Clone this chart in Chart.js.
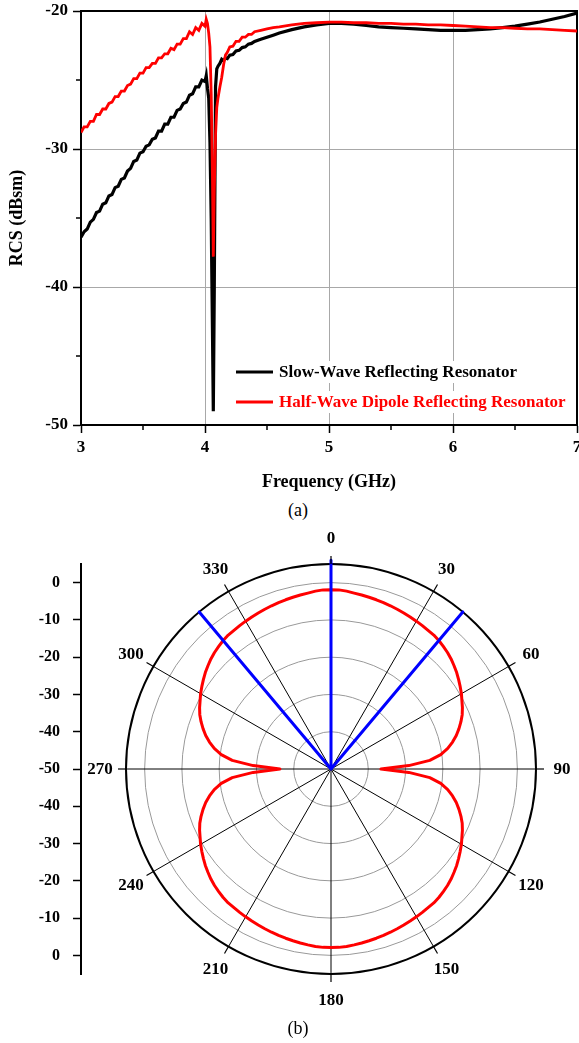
<!DOCTYPE html>
<html>
<head>
<meta charset="utf-8">
<script src="https://cdn.jsdelivr.net/npm/chart.js@4/dist/chart.umd.min.js"></script>
<style>
  html, body { margin: 0; padding: 0; background: #fff; overflow: hidden; }
  body { width: 579px; height: 1043px; position: relative; }
  .panel { position: absolute; left: 0; }
  .cap { position: absolute; left: 248px; width: 100px; text-align: center;
         font: 18px "Liberation Serif", "Times New Roman", serif; line-height: 20px; color: #000; }
</style>
</head>
<body>
<div class="panel" style="top:0;width:579px;height:500px"><canvas id="rcs"></canvas></div>
<div class="cap" style="top:500px">(a)</div>
<div class="panel" style="top:520px;width:582px;height:523px"><canvas id="pattern"></canvas></div>
<div class="cap" style="top:1018px">(b)</div>
<script>
const SERIF = '"Liberation Serif", "Times New Roman", serif';
Chart.defaults.font.family = SERIF;
Chart.defaults.color = '#000';

// ---------- (a) RCS versus frequency ----------
const freqGHz = [
  3.000, 3.025, 3.050, 3.075, 3.100, 3.125, 3.150, 3.175, 3.200, 3.225,
  3.250, 3.275, 3.300, 3.325, 3.350, 3.375, 3.400, 3.425, 3.450, 3.475,
  3.500, 3.525, 3.550, 3.575, 3.600, 3.625, 3.650, 3.675, 3.700, 3.725,
  3.750, 3.775, 3.800, 3.825, 3.850, 3.875, 3.900, 3.925, 3.950, 3.975,
  4.000, 4.010, 4.020, 4.030, 4.040, 4.050, 4.060, 4.067, 4.075, 4.085,
  4.095, 4.105, 4.120, 4.135, 4.150, 4.165, 4.180, 4.200, 4.225, 4.250,
  4.275, 4.300, 4.325, 4.350, 4.375, 4.400, 4.450, 4.500, 4.550, 4.600,
  4.700, 4.800, 4.900, 5.000, 5.100, 5.200, 5.300, 5.400, 5.500, 5.600,
  5.700, 5.800, 5.900, 6.000, 6.100, 6.200, 6.300, 6.400, 6.500, 6.600,
  6.700, 6.800, 6.900, 7.000
];
const slowWaveRcs = [
  -36.4, -36.0, -35.8, -35.3, -35.1, -34.6, -34.5, -34.0, -33.9, -33.4,
  -33.3, -32.8, -32.7, -32.2, -32.1, -31.6, -31.4, -30.9, -30.8, -30.3,
  -30.2, -29.8, -29.7, -29.3, -29.2, -28.7, -28.7, -28.2, -28.2, -27.7,
  -27.7, -27.2, -27.1, -26.7, -26.6, -26.1, -26.0, -25.5, -25.5, -25.0,
  -25.1, -24.7, -25.6, -26.3, -29.5, -35.0, -43.0, -49.0, -40.0, -25.5,
  -24.2, -24.0, -23.8, -23.5, -23.6, -23.4, -23.45, -23.2, -23.15, -22.9,
  -22.85, -22.65, -22.6, -22.4, -22.35, -22.2, -22.05, -21.9, -21.75, -21.6,
  -21.35, -21.15, -21.0, -20.9, -20.9, -20.95, -21.05, -21.15, -21.2, -21.25,
  -21.3, -21.35, -21.4, -21.4, -21.4, -21.35, -21.3, -21.2, -21.1, -20.95,
  -20.8, -20.6, -20.4, -20.15
];
const halfWaveRcs = [
  -28.8, -28.4, -28.4, -28.0, -28.0, -27.5, -27.5, -27.1, -27.1, -26.7,
  -26.6, -26.2, -26.2, -25.8, -25.8, -25.4, -25.3, -24.9, -24.9, -24.5,
  -24.5, -24.1, -24.1, -23.8, -23.8, -23.4, -23.4, -23.1, -23.1, -22.7,
  -22.8, -22.4, -22.4, -22.0, -22.0, -21.5, -21.7, -21.2, -21.4, -20.9,
  -21.1, -20.6, -20.9, -21.6, -22.6, -26.0, -32.0, -37.8, -33.0, -29.0,
  -27.0, -26.3, -25.5, -24.8, -23.9, -23.2, -23.0, -22.6, -22.55, -22.2,
  -22.2, -21.9, -21.9, -21.7, -21.7, -21.5, -21.4, -21.3, -21.2, -21.15,
  -21.0, -20.9, -20.85, -20.8, -20.8, -20.85, -20.85, -20.9, -20.9, -20.95,
  -20.95, -21.0, -21.0, -21.05, -21.1, -21.15, -21.2, -21.2, -21.25, -21.3,
  -21.3, -21.35, -21.4, -21.45
];
const seriesNames = ['Slow-Wave Reflecting Resonator', 'Half-Wave Dipole Reflecting Resonator'];
const freqTicks = [3, 4, 5, 6, 7];
const freqMinorTicks = [3.5, 4.5, 5.5, 6.5];
const rcsTicks = [-50, -40, -30, -20];
const rcsMinorTicks = [-45, -35, -25];

// ---------- (b) radiation pattern ----------
const patternStep = 2.5;
const patternAngles = Array.from({ length: 360 / patternStep }, (_, i) => i * patternStep);
const dipolePattern = [
  -1.9, -1.9, -2.1, -2.4, -2.6, -2.8, -3.0, -3.2, -3.4, -3.6, -3.8, -4.0,
  -4.2, -4.4, -4.6, -4.7, -5.0, -5.4, -5.8, -6.3, -6.9, -7.5, -8.2, -8.9,
  -9.6, -10.4, -11.1, -11.9, -12.9, -14.0, -15.2, -16.6, -18.2, -20.3, -23.4, -29.1,
  -36.6, -29.1, -23.4, -20.3, -18.2, -16.6, -15.2, -14.0, -12.9, -11.9, -11.1, -10.4,
  -9.6, -8.9, -8.2, -7.5, -6.9, -6.3, -5.8, -5.4, -5.0, -4.7, -4.6, -4.4,
  -4.2, -4.0, -3.8, -3.6, -3.4, -3.2, -3.0, -2.8, -2.6, -2.4, -2.2, -2.1,
  -2.1, -2.1, -2.2, -2.4, -2.6, -2.8, -3.0, -3.2, -3.4, -3.6, -3.8, -4.0,
  -4.2, -4.4, -4.6, -4.7, -5.0, -5.4, -5.8, -6.3, -6.9, -7.5, -8.2, -8.9,
  -9.6, -10.4, -11.1, -11.9, -12.9, -14.0, -15.2, -16.6, -18.2, -20.3, -23.4, -29.1,
  -36.3, -29.1, -23.4, -20.3, -18.2, -16.6, -15.2, -14.0, -12.9, -11.9, -11.1, -10.4,
  -9.6, -8.9, -8.2, -7.5, -6.9, -6.3, -5.8, -5.4, -5.0, -4.7, -4.6, -4.4,
  -4.2, -4.0, -3.8, -3.6, -3.4, -3.2, -3.0, -2.8, -2.6, -2.4, -2.1, -1.9
];
const spikeAngles = [0, 40, 320];
const spikeLevels = [6, 5, 5];
const patternFloor = -50;
const ringValues = [-50, -40, -30, -20, -10, 0, 5];
const spokeLabels = ['0', '30', '60', '90', '120', '150', '180', '210', '240', '270', '300', '330'];
const levelAxisTicks = [-50, -40, -30, -20, -10, 0, 10, 20, 30, 40, 50];
const levelAxisLabels = ['0', '-10', '-20', '-30', '-40', '-50', '-40', '-30', '-20', '-10', '0'];

// spikes of the slow-wave resonator: radial strokes from the centre
const spikeSeries = patternAngles.map(a => {
  const k = spikeAngles.indexOf(a);
  return k >= 0 ? spikeLevels[k] : patternFloor;
});

// frame on top/right plus short minor ticks
const frameAndMinorTicks = {
  id: 'frameAndMinorTicks',
  beforeDatasetsDraw(chart) {
    const { ctx, chartArea: a, scales: { x, y } } = chart;
    ctx.save();
    ctx.strokeStyle = '#000';
    ctx.lineWidth = 2;
    ctx.beginPath();
    ctx.moveTo(a.left, a.top);
    ctx.lineTo(a.right, a.top);
    ctx.lineTo(a.right, a.bottom);
    ctx.stroke();
    ctx.lineWidth = 1.5;
    ctx.beginPath();
    freqMinorTicks.forEach(v => {
      const px = x.getPixelForValue(v);
      ctx.moveTo(px, a.bottom);
      ctx.lineTo(px, a.bottom + 5);
    });
    rcsMinorTicks.forEach(v => {
      const py = y.getPixelForValue(v);
      ctx.moveTo(a.left - 5, py);
      ctx.lineTo(a.left, py);
    });
    ctx.stroke();
    ctx.restore();
  }
};

// legend placed inside the plot, text coloured like its line
const insideLegend = {
  id: 'insideLegend',
  afterDraw(chart) {
    const { ctx, chartArea: a } = chart;
    const x0 = a.left + 155, y0 = a.top + 361, rowH = 30;
    ctx.save();
    ctx.font = 'bold 17px ' + SERIF;
    ctx.textBaseline = 'middle';
    ctx.textAlign = 'left';
    chart.data.datasets.forEach((ds, i) => {
      const yy = y0 + i * rowH;
      ctx.fillStyle = '#fff';
      ctx.fillRect(x0 - 4, yy - 11, 338, 22);
      ctx.strokeStyle = ds.borderColor;
      ctx.lineWidth = 3;
      ctx.beginPath();
      ctx.moveTo(x0, yy);
      ctx.lineTo(x0 + 37, yy);
      ctx.stroke();
      ctx.fillStyle = ds.borderColor;
      ctx.fillText(ds.label, x0 + 43, yy + 1);
    });
    ctx.restore();
  }
};

new Chart(document.getElementById('rcs'), {
  type: 'line',
  data: {
    datasets: [
      { label: seriesNames[0], data: freqGHz.map((f, i) => ({ x: f, y: slowWaveRcs[i] })),
        borderColor: '#000000', borderWidth: 3.2, pointRadius: 0, order: 1 },
      { label: seriesNames[1], data: freqGHz.map((f, i) => ({ x: f, y: halfWaveRcs[i] })),
        borderColor: '#ff0000', borderWidth: 2.8, pointRadius: 0, order: 0 }
    ]
  },
  options: {
    responsive: true,
    maintainAspectRatio: false,
    animation: false,
    layout: { padding: { top: 11, right: 2, left: 0, bottom: 0 } },
    plugins: { legend: { display: false }, tooltip: { enabled: false } },
    scales: {
      x: {
        type: 'linear', min: 3, max: 7,
        afterBuildTicks: s => { s.ticks = freqTicks.map(v => ({ value: v })); },
        afterFit: s => { s.height = 75; s.paddingLeft = 0; s.paddingRight = 0; },
        ticks: { font: { size: 17, weight: 'bold' }, padding: 4, maxRotation: 0, callback: v => String(v) },
        grid: {
          color: c => (c.tick && c.tick.value > 3 && c.tick.value < 7) ? '#a8a8a8' : 'rgba(0,0,0,0)',
          lineWidth: 1, tickLength: 8, tickColor: '#000', tickWidth: 1.5
        },
        border: { color: '#000', width: 2 },
        title: { display: true, text: 'Frequency (GHz)', font: { size: 18, weight: 'bold' }, padding: { top: 0, bottom: 7 } }
      },
      y: {
        type: 'linear', min: -50, max: -20,
        afterBuildTicks: s => { s.ticks = rcsTicks.map(v => ({ value: v })); },
        afterFit: s => { s.width = 81; s.paddingTop = 0; s.paddingBottom = 0; },
        ticks: { font: { size: 17, weight: 'bold' }, padding: 5, callback: v => String(v) },
        grid: {
          color: c => (c.tick && c.tick.value > -50 && c.tick.value < -20) ? '#a8a8a8' : 'rgba(0,0,0,0)',
          lineWidth: 1, tickLength: 8, tickColor: '#000', tickWidth: 1.5
        },
        border: { color: '#000', width: 2 },
        title: { display: true, text: 'RCS (dBsm)', font: { size: 18, weight: 'bold' }, padding: { top: 7, bottom: 0 } }
      }
    }
  },
  plugins: [frameAndMinorTicks, insideLegend]
});

// spoke tick marks past the outer ring and the angle labels
const spokeDecor = {
  id: 'spokeDecor',
  afterDraw(chart) {
    const s = chart.scales.r;
    const ctx = chart.ctx;
    const perSpoke = 30 / patternStep;
    ctx.save();
    ctx.strokeStyle = '#000';
    ctx.lineWidth = 1.2;
    ctx.fillStyle = '#000';
    ctx.font = 'bold 17px ' + SERIF;
    ctx.textAlign = 'center';
    ctx.textBaseline = 'middle';
    spokeLabels.forEach((txt, k) => {
      const idx = k * perSpoke;
      const p1 = s.getPointPosition(idx, s.drawingArea);
      const p2 = s.getPointPosition(idx, s.drawingArea + 8);
      ctx.beginPath();
      ctx.moveTo(p1.x, p1.y);
      ctx.lineTo(p2.x, p2.y);
      ctx.stroke();
      const p = s.getPointPosition(idx, s.drawingArea + 26);
      ctx.fillText(txt, p.x, p.y + 1);
    });
    ctx.restore();
  }
};

new Chart(document.getElementById('pattern'), {
  type: 'radar',
  data: {
    labels: patternAngles.map(String),
    datasets: [
      { label: 'Slow-wave', data: spikeSeries, borderColor: '#0000ff', borderWidth: 3,
        pointRadius: 0, fill: false, clip: false, order: 0 },
      { label: 'Half-wave dipole', data: dipolePattern, borderColor: '#ff0000', borderWidth: 3,
        pointRadius: 0, fill: false, clip: false, order: 1 }
    ]
  },
  options: {
    responsive: true,
    maintainAspectRatio: false,
    animation: false,
    layout: { padding: { top: 44, bottom: 69, left: 0, right: 0 } },
    plugins: { legend: { display: false }, tooltip: { enabled: false } },
    elements: { line: { borderJoinStyle: 'round', tension: 0 } },
    scales: {
      r: {
        type: 'radialLinear', min: -50, max: 5, startAngle: 0,
        afterBuildTicks: s => { s.ticks = ringValues.map(v => ({ value: v })); },
        ticks: { display: false },
        pointLabels: { display: false },
        grid: {
          circular: true,
          color: c => c.tick.value === 5 ? '#000' : (c.tick.value === -50 ? 'rgba(0,0,0,0)' : '#999'),
          lineWidth: c => c.tick.value === 5 ? 2 : 1
        },
        angleLines: {
          color: c => c.index % (30 / patternStep) === 0 ? '#000' : 'rgba(0,0,0,0)',
          lineWidth: c => c.index % (30 / patternStep) === 0 ? 1 : 0
        }
      },
      y: {
        type: 'linear', position: 'left', min: -55, max: 55,
        afterBuildTicks: s => { s.ticks = levelAxisTicks.map(v => ({ value: v })); },
        afterFit: s => { s.width = 81; },
        ticks: { font: { size: 16, weight: 'bold' }, padding: 13, color: '#000',
                 callback: (v, i) => levelAxisLabels[i] },
        grid: { drawOnChartArea: false, tickLength: 8, tickColor: '#000', tickWidth: 1.5, color: '#000' },
        border: { color: '#000', width: 2 }
      }
    }
  },
  plugins: [spokeDecor]
});
</script>
</body>
</html>
